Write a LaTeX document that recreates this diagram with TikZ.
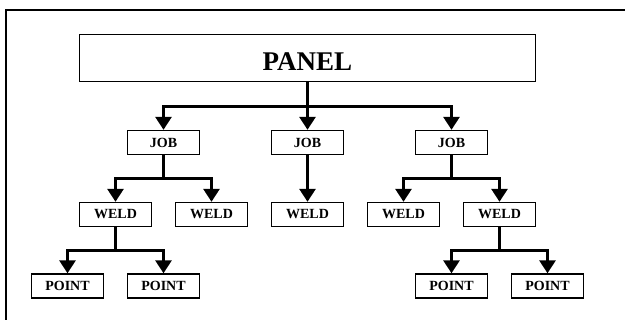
\documentclass[tikz,border=0pt]{standalone}
\usepackage{fontspec}
\setmainfont{Liberation Serif}
\usetikzlibrary{arrows.meta, positioning}

\begin{document}
\begin{tikzpicture}[x=1pt, y=-1pt,
    box/.style={draw, line width=1.4pt, minimum width=72pt, minimum height=24pt,
      inner sep=0pt, font=\fontsize{14}{16}\selectfont\bfseries},
    link/.style={line width=3pt, -{Triangle[width=16pt, length=13pt]}}]
    \useasboundingbox (0,0) rectangle (625,320);
    \draw[line width=1.5pt] (6,320) -- (6,10) -- (625,10);
    \node[box, minimum width=456pt, minimum height=47pt, text height=25pt, text depth=0pt,
      font=\fontsize{27}{32}\selectfont\bfseries] (panel) at (307.5,58) {PANEL};
    \node[box] (job1) at (163.5,142.5) {JOB};
    \node[box] (job2) at (307.5,142.5) {JOB};
    \node[box] (job3) at (451.5,142.5) {JOB};
    \node[box] (weld1) at (115.5,214.5) {WELD};
    \node[box] (weld2) at (211.5,214.5) {WELD};
    \node[box] (weld3) at (307.5,214.5) {WELD};
    \node[box] (weld4) at (403.5,214.5) {WELD};
    \node[box] (weld5) at (499.5,214.5) {WELD};
    \node[box] (point1) at (67.5,286) {POINT};
    \node[box] (point2) at (163.5,286) {POINT};
    \node[box] (point3) at (451.5,286) {POINT};
    \node[box] (point4) at (547.5,286) {POINT};
    \draw[link] (panel.south) -- ++(0,24) -| (job1);
    \draw[link] (panel.south) -- (job2);
    \draw[link] (panel.south) -- ++(0,24) -| (job3);
    \draw[link] (job1.south) -- ++(0,23) -| (weld1);
    \draw[link] (job1.south) -- ++(0,23) -| (weld2);
    \draw[link] (job2.south) -- (weld3);
    \draw[link] (job3.south) -- ++(0,23) -| (weld4);
    \draw[link] (job3.south) -- ++(0,23) -| (weld5);
    \draw[link] (weld1.south) -- ++(0,23) -| (point1);
    \draw[link] (weld1.south) -- ++(0,23) -| (point2);
    \draw[link] (weld5.south) -- ++(0,23) -| (point3);
    \draw[link] (weld5.south) -- ++(0,23) -| (point4);
  \end{tikzpicture}
\end{document}
